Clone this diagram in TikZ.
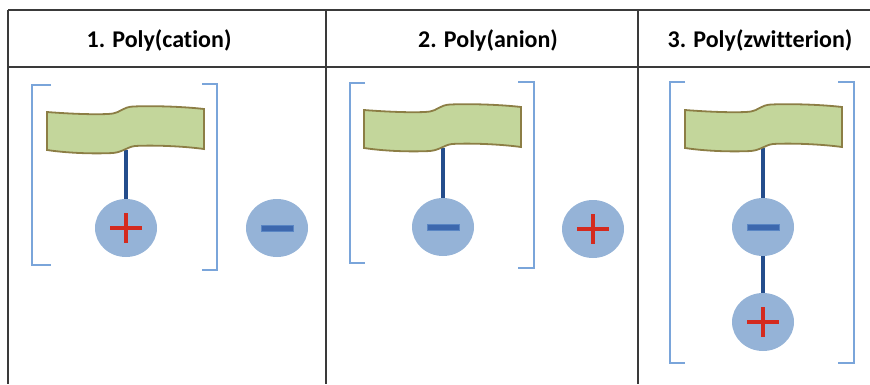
\documentclass[tikz,border=0pt]{standalone}
\usepackage{fontspec}
\setmainfont[Ligatures=NoCommon]{Carlito}
\usetikzlibrary{shapes.geometric}
\definecolor{bannerfill}{HTML}{C3D69B}
\definecolor{bannerline}{HTML}{8C7E45}
\definecolor{ionfill}{HTML}{95B3D7}
\definecolor{stemcol}{HTML}{244D8C}
\definecolor{pluscol}{HTML}{D42A1E}
\definecolor{minusfill}{HTML}{3D68AE}
\definecolor{minusline}{HTML}{5A86C4}
\definecolor{brackcol}{HTML}{7AA5DA}
\definecolor{gridcol}{HTML}{3A3A3A}
\begin{document}
\begin{tikzpicture}[x=1pt,y=-1pt,
  gridline/.style={draw=gridcol, line width=1.8},
  header/.style={font=\fontsize{24}{29}\selectfont\bfseries, text=black, inner sep=0},
  bracket/.style={draw=brackcol, line width=1.6},
  stem/.style={draw=stemcol, line width=3.2},
  ion/.style={ellipse, fill=ionfill, minimum width=62, minimum height=58, inner sep=0},
  plusbar/.style={draw=pluscol, line width=4.2},
  minusbar/.style={fill=minusfill, draw=minusline, line width=0.8},
  banner/.pic={\draw[bannerline, fill=bannerfill, line width=1.8]
     (0,0) .. controls (25,2) and (55,3) .. (66,1.5)
     .. controls (73,0.5) and (76,-5) .. (86,-5.5)
     .. controls (110,-6.5) and (140,-5) .. (157,-3) -- (157,37)
     .. controls (135,34) and (105,33) .. (88,34)
     .. controls (80,35) and (76,40) .. (66,41)
     .. controls (45,42) and (20,41) .. (0,38) -- cycle;}
]
\useasboundingbox (0,0) rectangle (870,384);

% table grid
\draw[gridline] (8,10) -- (870,10);
\draw[gridline] (8,67) -- (870,67);
\draw[gridline] (8,10) -- (8,384);
\draw[gridline] (326,10) -- (326,384);
\draw[gridline] (638,10) -- (638,384);

% headers
\node[header] (h1) at (159,40) {1. Poly(cation)};
\node[header] (h2) at (488,40) {2. Poly(anion)};
\node[header] (h3) at (760,40) {3. Poly(zwitterion)};

% ---------- panel 1 ----------
\draw[bracket] (51,85) -- (32,85) -- (32,265) -- (51,265);
\draw[bracket] (202,84) -- (217,84) -- (217,270) -- (202,270);
\coordinate (s1) at (126,150);
\node[ion] (c1) at (126,228) {};
\node[ion] (f1) at (277,228) {};
\draw[stem] (s1) -- (c1);
\pic at (47,112) {banner};
\draw[plusbar] (c1.center) ++(-16,0) -- ++(32,0);
\draw[plusbar] (c1.center) ++(0,-15) -- ++(0,30);
\draw[minusbar] (f1.center) ++(-16,-3) rectangle ++(32,6);

% ---------- panel 2 ----------
\draw[bracket] (365,83) -- (350,83) -- (350,263) -- (365,263);
\draw[bracket] (518,82) -- (534,82) -- (534,268) -- (518,268);
\coordinate (s2) at (443,148);
\node[ion] (c2) at (443,227) {};
\node[ion] (f2) at (593,229) {};
\draw[stem] (s2) -- (c2);
\pic at (364,110) {banner};
\draw[minusbar] (c2.center) ++(-16,-3) rectangle ++(32,6);
\draw[plusbar] (f2.center) ++(-16,0) -- ++(32,0);
\draw[plusbar] (f2.center) ++(0,-15) -- ++(0,30);

% ---------- panel 3 ----------
\draw[bracket] (685,82) -- (670,82) -- (670,363) -- (685,363);
\draw[bracket] (838,82) -- (854,82) -- (854,363) -- (838,363);
\coordinate (s3) at (763,148);
\node[ion] (c3) at (763,227) {};
\node[ion] (c4) at (763,322) {};
\draw[stem] (s3) -- (c3);
\draw[stem] (c3) -- (c4);
\pic at (685,110) {banner};
\draw[minusbar] (c3.center) ++(-16,-3) rectangle ++(32,6);
\draw[plusbar] (c4.center) ++(-16,0) -- ++(32,0);
\draw[plusbar] (c4.center) ++(0,-15) -- ++(0,30);
\end{tikzpicture}
\end{document}
